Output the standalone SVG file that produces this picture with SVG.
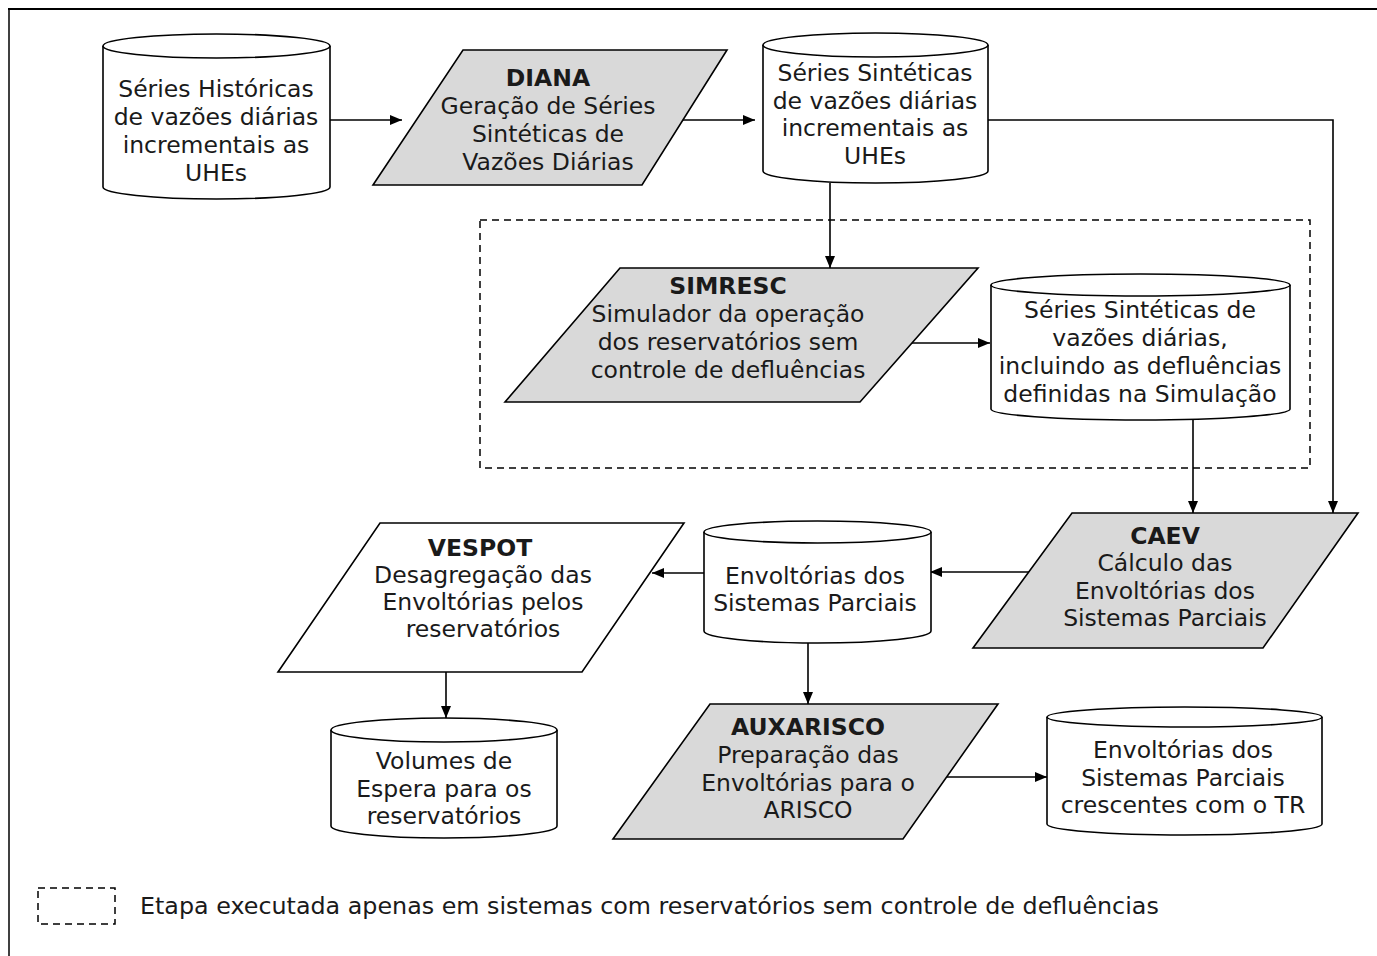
<svg xmlns="http://www.w3.org/2000/svg" width="1377" height="956" viewBox="0 0 1377 956">
<defs>
<marker id="ah" viewBox="0 0 12 10" refX="12" refY="5" markerWidth="12" markerHeight="10" markerUnits="userSpaceOnUse" orient="auto">
<path d="M0,0 L12,5 L0,10 z" fill="#000"/>
</marker>
<style>
.t{font-family:"DejaVu Sans","Verdana",sans-serif;font-size:23.5px;fill:#1a1a1a;text-anchor:middle}
.b{font-weight:bold}
.lg{font-family:"DejaVu Sans","Verdana",sans-serif;font-size:23.8px;fill:#1a1a1a}
.cyl{fill:#fff;stroke:#000;stroke-width:1.6}
.par{fill:#d9d9d9;stroke:#000;stroke-width:1.6}
.parw{fill:#fff;stroke:#000;stroke-width:1.6}
.c{fill:none;stroke:#000;stroke-width:1.6}
.dash{fill:none;stroke:#000;stroke-width:1.5;stroke-dasharray:7,5}
</style>
</defs>
<rect width="1377" height="956" fill="#fff"/>
<line x1="8" y1="9" x2="1377" y2="9" stroke="#000" stroke-width="2.2"/>
<line x1="9" y1="8" x2="9" y2="956" stroke="#000" stroke-width="1.5"/>

<rect id="grupo-tracejado" class="dash" x="480" y="220" width="830" height="248"/>

<g id="connectors">
<line class="c" x1="330" y1="120" x2="402" y2="120" marker-end="url(#ah)"/>
<line class="c" x1="683" y1="120" x2="755" y2="120" marker-end="url(#ah)"/>
<line class="c" x1="830" y1="183" x2="830" y2="268" marker-end="url(#ah)"/>
<polyline class="c" points="988,120 1333,120 1333,513" marker-end="url(#ah)"/>
<line class="c" x1="905" y1="343" x2="990" y2="343" marker-end="url(#ah)"/>
<line class="c" x1="1193" y1="420" x2="1193" y2="513" marker-end="url(#ah)"/>
<line class="c" x1="1029" y1="572" x2="930" y2="572" marker-end="url(#ah)"/>
<line class="c" x1="705" y1="573" x2="652" y2="573" marker-end="url(#ah)"/>
<line class="c" x1="446" y1="672" x2="446" y2="718" marker-end="url(#ah)"/>
<line class="c" x1="808" y1="643" x2="808" y2="704" marker-end="url(#ah)"/>
<line class="c" x1="947" y1="777" x2="1047" y2="777" marker-end="url(#ah)"/>
</g>

<g id="series-historicas">
<path class="cyl" d="M103,46 A113.5,12 0 0 1 330,46 L330,187 A113.5,12 0 0 1 103,187 Z"/>
<path class="cyl" d="M103,46 A113.5,12 0 0 0 330,46"/>
<text class="t" x="216" y="97">Séries Históricas</text>
<text class="t" x="216" y="125">de vazões diárias</text>
<text class="t" x="216" y="153">incrementais as</text>
<text class="t" x="216" y="181">UHEs</text>
</g>

<g id="diana">
<polygon class="par" points="463,50 727,50 642,185 373,185"/>
<text class="t b" x="548" y="86">DIANA</text>
<text class="t" x="548" y="114">Geração de Séries</text>
<text class="t" x="548" y="142">Sintéticas de</text>
<text class="t" x="548" y="170">Vazões Diárias</text>
</g>

<g id="series-sinteticas">
<path class="cyl" d="M763,45 A112.5,12 0 0 1 988,45 L988,171 A112.5,12 0 0 1 763,171 Z"/>
<path class="cyl" d="M763,45 A112.5,12 0 0 0 988,45"/>
<text class="t" x="875" y="81">Séries Sintéticas</text>
<text class="t" x="875" y="109">de vazões diárias</text>
<text class="t" x="875" y="136">incrementais as</text>
<text class="t" x="875" y="164">UHEs</text>
</g>

<g id="simresc">
<polygon class="par" points="620,268 978,268 860,402 505,402"/>
<text class="t b" x="728" y="294">SIMRESC</text>
<text class="t" x="728" y="322">Simulador da operação</text>
<text class="t" x="728" y="350">dos reservatórios sem</text>
<text class="t" x="728" y="378">controle de defluências</text>
</g>

<g id="series-simulacao">
<path class="cyl" d="M991,285 A149.5,11 0 0 1 1290,285 L1290,409 A149.5,11 0 0 1 991,409 Z"/>
<path class="cyl" d="M991,285 A149.5,11 0 0 0 1290,285"/>
<text class="t" x="1140" y="318">Séries Sintéticas de</text>
<text class="t" x="1140" y="346">vazões diárias,</text>
<text class="t" x="1140" y="374">incluindo as defluências</text>
<text class="t" x="1140" y="402">definidas na Simulação</text>
</g>

<g id="caev">
<polygon class="par" points="1072,513 1358,513 1263,648 973,648"/>
<text class="t b" x="1165" y="544">CAEV</text>
<text class="t" x="1165" y="571">Cálculo das</text>
<text class="t" x="1165" y="599">Envoltórias dos</text>
<text class="t" x="1165" y="626">Sistemas Parciais</text>
</g>

<g id="envoltorias">
<path class="cyl" d="M704,532 A113.5,11 0 0 1 931,532 L931,631 A113.5,12 0 0 1 704,631 Z"/>
<path class="cyl" d="M704,532 A113.5,11 0 0 0 931,532"/>
<text class="t" x="815" y="584">Envoltórias dos</text>
<text class="t" x="815" y="611">Sistemas Parciais</text>
</g>

<g id="vespot">
<polygon class="parw" points="380,523 684,523 582,672 278,672"/>
<text class="t b" x="480" y="556">VESPOT</text>
<text class="t" x="483" y="583">Desagregação das</text>
<text class="t" x="483" y="610">Envoltórias pelos</text>
<text class="t" x="483" y="637">reservatórios</text>
</g>

<g id="volumes">
<path class="cyl" d="M331,730 A113,12 0 0 1 557,730 L557,826 A113,12 0 0 1 331,826 Z"/>
<path class="cyl" d="M331,730 A113,12 0 0 0 557,730"/>
<text class="t" x="444" y="769">Volumes de</text>
<text class="t" x="444" y="797">Espera para os</text>
<text class="t" x="444" y="824">reservatórios</text>
</g>

<g id="auxarisco">
<polygon class="par" points="710,704 998,704 903,839 613,839"/>
<text class="t b" x="808" y="735">AUXARISCO</text>
<text class="t" x="808" y="763">Preparação das</text>
<text class="t" x="808" y="791">Envoltórias para o</text>
<text class="t" x="808" y="818">ARISCO</text>
</g>

<g id="envoltorias-tr">
<path class="cyl" d="M1047,717 A137.5,10 0 0 1 1322,717 L1322,824 A137.5,11 0 0 1 1047,824 Z"/>
<path class="cyl" d="M1047,717 A137.5,10 0 0 0 1322,717"/>
<text class="t" x="1183" y="758">Envoltórias dos</text>
<text class="t" x="1183" y="786">Sistemas Parciais</text>
<text class="t" x="1183" y="813">crescentes com o TR</text>
</g>

<g id="legenda">
<rect class="dash" x="38" y="888" width="77" height="36"/>
<text class="lg" x="140" y="914">Etapa executada apenas em sistemas com reservatórios sem controle de defluências</text>
</g>
</svg>
